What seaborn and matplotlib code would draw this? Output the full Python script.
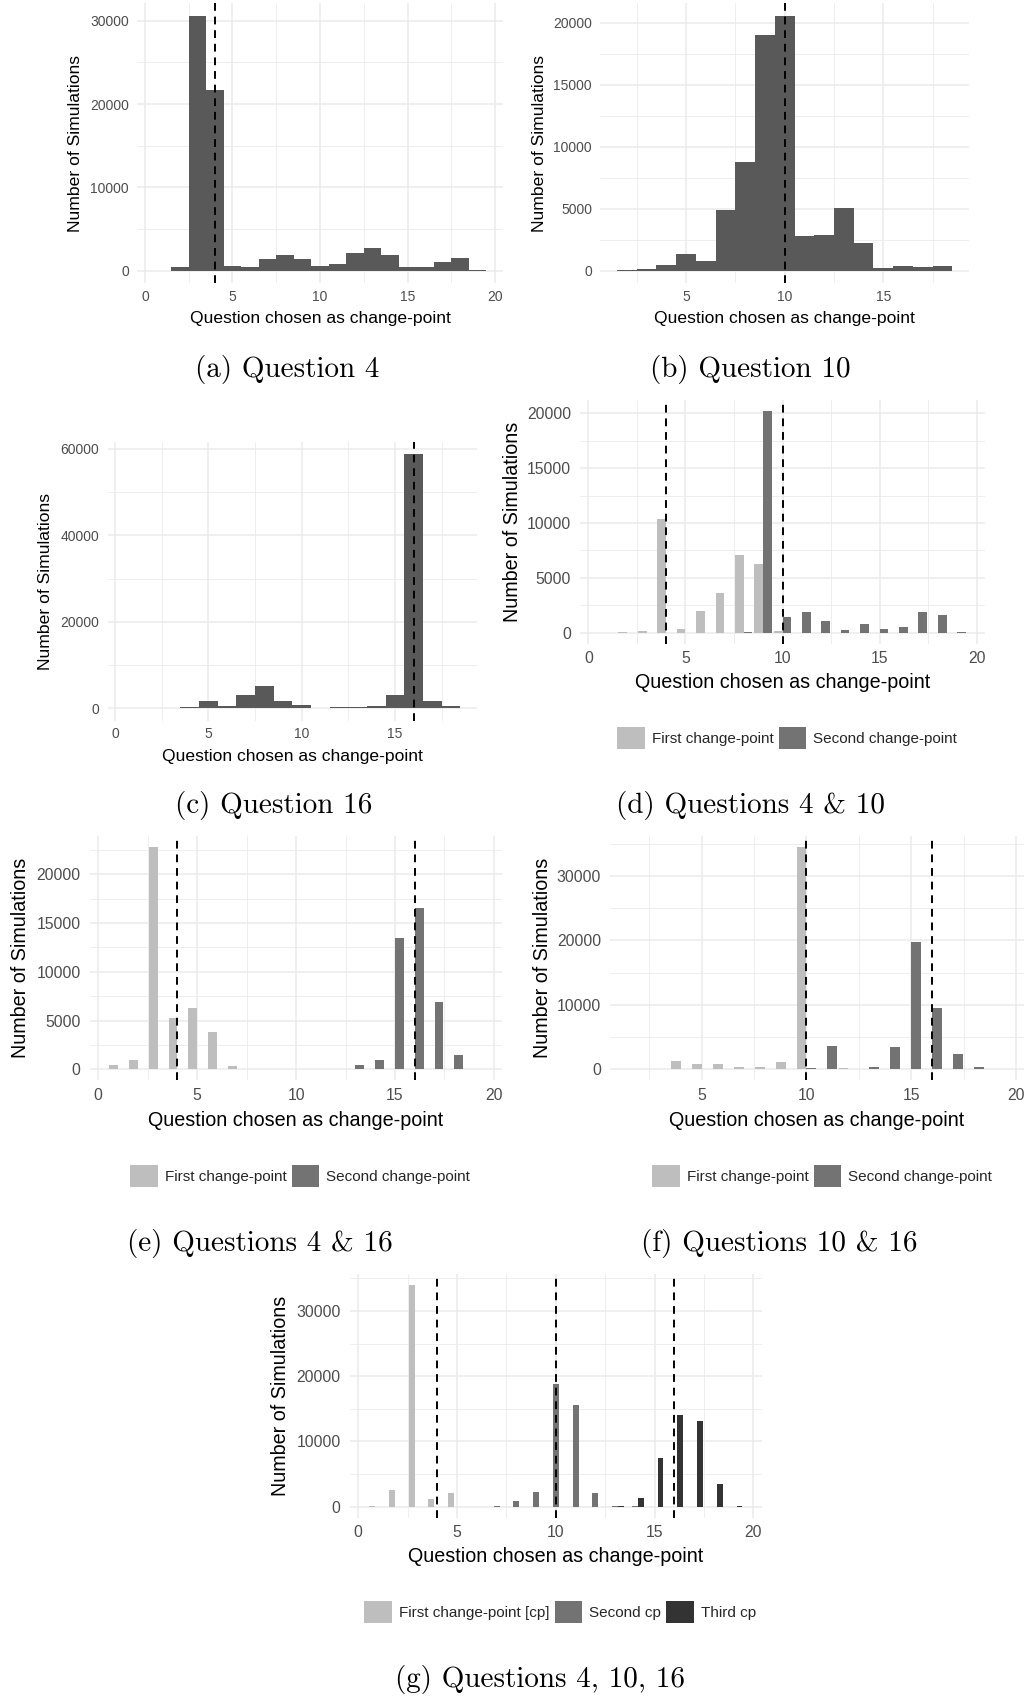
import matplotlib
matplotlib.use("Agg")
import matplotlib.pyplot as plt
import seaborn as sns
import pandas as pd
from matplotlib.patches import Patch

# ---------------- data ----------------
questions_a = list(range(1, 20))
counts_a = [0, 480, 30560, 21680, 560, 400, 1360, 1840, 1440, 600, 760,
            2160, 2720, 1880, 480, 480, 1040, 1480, 80]

questions_b = list(range(2, 19))
counts_b = [50, 100, 450, 1340, 750, 4890, 8760, 18980, 20540, 2770, 2880,
            5030, 2200, 215, 400, 320, 350]

questions_c = list(range(1, 19))
counts_c = [0, 50, 50, 200, 1620, 540, 3160, 5090, 1700, 770, 150, 230, 230,
            540, 3000, 58750, 1700, 620]

questions_d = list(range(1, 20))
first_d = [0, 50, 130, 10330, 365, 2000, 3620, 7110, 6260, 190, 0, 0, 0, 0,
           0, 0, 0, 0, 0]
second_d = [0, 0, 0, 0, 0, 0, 0, 100, 20240, 1430, 1850, 1060, 270, 760, 300,
            490, 1900, 1640, 60]

questions_e = list(range(1, 20))
first_e = [440, 920, 22770, 5260, 6320, 3860, 340, 0, 0, 0, 0, 0, 0, 0, 0, 0,
           0, 0, 0]
second_e = [0, 0, 0, 0, 0, 0, 0, 0, 0, 0, 40, 40, 440, 960, 13470, 16510, 6900,
            1440, 70]

questions_f = list(range(2, 20))
first_f = [0, 0, 1345, 780, 830, 360, 410, 1190, 34450, 0, 150, 0, 0, 0, 0, 0,
           0, 0]
second_f = [0, 0, 0, 0, 0, 0, 0, 0, 200, 3620, 100, 310, 3470, 19710, 9470,
            2330, 410, 0]

questions_g = list(range(1, 20))
first_g = [60, 2610, 33980, 1120, 2150, 0, 0, 0, 0, 0, 0, 0, 0, 0, 0, 0, 0, 0, 0]
second_g = [0, 0, 0, 0, 0, 0, 80, 920, 2300, 18750, 15530, 2040, 100, 50, 0, 0,
            0, 0, 0]
third_g = [0, 0, 0, 0, 0, 0, 0, 0, 0, 0, 0, 0, 100, 1380, 7510, 14000, 13180,
           3470, 150]

labels2 = ["First change-point", "Second change-point"]
labels3 = ["First change-point [cp]", "Second cp", "Third cp"]

captions = ["(a) Question 4", "(b) Question 10", "(c) Question 16",
            "(d) Questions 4 & 10", "(e) Questions 4 & 16",
            "(f) Questions 10 & 16", "(g) Questions 4, 10, 16"]

XLAB = "Question chosen as change-point"
YLAB = "Number of Simulations"

# ---------------- style ----------------
sns.set_theme(style="white")
plt.rcParams["font.family"] = ["Liberation Sans", "DejaVu Sans"]

BAR = "#595959"
LIGHT = "#BEBEBE"
MID = "#737373"
DARK = "#333333"
GRID = "#EBEBEB"

W, H = 1028, 1696
fig = plt.figure(figsize=(W / 100, H / 100), dpi=100)
fig.patch.set_facecolor("white")


def make_ax(L, T, R, B):
    return fig.add_axes([L / W, 1 - B / H, (R - L) / W, (B - T) / H])


def style(ax, rect, xlim, xmaj, xmin, ymaj, ymin, ymax, tfs, lfs,
          xlab_y, ylab_x, vlines):
    L, T, R, B = rect
    ax.set_xlim(*xlim)
    ax.set_ylim(-0.05 * ymax, 1.05 * ymax)
    ax.set_xticks(xmaj)
    ax.set_xticklabels([str(v) for v in xmaj])
    ax.set_xticks(xmin, minor=True)
    ax.set_yticks(ymaj)
    ax.set_yticklabels([str(v) for v in ymaj])
    ax.set_yticks(ymin, minor=True)
    ax.grid(which="major", color=GRID, lw=1.1)
    ax.grid(which="minor", color=GRID, lw=0.6)
    ax.set_axisbelow(True)
    for s in ax.spines.values():
        s.set_visible(False)
    ax.tick_params(which="both", length=0, labelcolor="#4D4D4D",
                   labelsize=tfs)
    ax.tick_params(axis="y", pad=6.5 * tfs / 11)
    ax.tick_params(axis="x", pad=5.0 * tfs / 11)
    ax.set_facecolor("white")
    for v in vlines:
        ax.axvline(v, color="black", lw=1.4, ls=(0, (4, 3)), zorder=5)
    ax.set_xlabel(XLAB, fontsize=lfs, color="black")
    ax.set_ylabel(YLAB, fontsize=lfs, color="black")
    ax.xaxis.set_label_coords(0.5, (B - xlab_y) / (B - T))
    ax.yaxis.set_label_coords((ylab_x - L) / (R - L), 0.5)
    ax.xaxis.label.set_verticalalignment("center")
    ax.yaxis.label.set_verticalalignment("center")


def single(rect, q, c):
    ax = make_ax(*rect)
    df = pd.DataFrame({"question": q, "count": c})
    sns.histplot(data=df, x="question", weights="count", discrete=True,
                 color=BAR, alpha=1, linewidth=0, ax=ax)
    return ax


def dodged(rect, q, series, labels, colors):
    ax = make_ax(*rect)
    qs, cs, hs = [], [], []
    for s, lab in zip(series, labels):
        qs += list(q)
        cs += list(s)
        hs += [lab] * len(q)
    df = pd.DataFrame({"question": qs, "count": cs, "cp": hs})
    sns.histplot(data=df, x="question", weights="count", hue="cp",
                 hue_order=labels, palette=colors, multiple="dodge",
                 discrete=True, shrink=0.9, alpha=1, linewidth=0,
                 common_norm=False, legend=False, ax=ax)
    return ax


def add_legend(ax, labels, colors, cx, cy, fs=11):
    handles = [Patch(facecolor=c, edgecolor="none", label=l)
               for l, c in zip(labels, colors)]
    ax.legend(handles=handles, loc="center", bbox_to_anchor=(cx / W, 1 - cy / H),
              bbox_transform=fig.transFigure, ncol=len(labels), frameon=False,
              fontsize=fs, handlelength=1.8, handleheight=1.8,
              handletextpad=0.45, columnspacing=0.35, borderpad=0,
              borderaxespad=0)


S_T, S_L = 10, 12.6   # small panels font sizes
B_T, B_L = 11.3, 14.2  # bigger panels

# (a)
ra = (137.1, 3.3, 502.9, 283.4)
ax = single(ra, questions_a, counts_a)
style(ax, ra, (-0.45, 20.45), [0, 5, 10, 15, 20], [2.5, 7.5, 12.5, 17.5],
      [0, 10000, 20000, 30000], [5000, 15000, 25000], max(counts_a),
      S_T, S_L, 319, 75, [4])

# (b)
rb = (600.2, 3.3, 969.2, 283.4)
ax = single(rb, questions_b, counts_b)
style(ax, rb, (0.65, 19.35), [5, 10, 15], [2.5, 7.5, 12.5, 17.5],
      [0, 5000, 10000, 15000, 20000], [2500, 7500, 12500, 17500],
      max(counts_b), S_T, S_L, 319, 540, [10])

# (c)
rc = (107.5, 441.6, 477.0, 721.0)
ax = single(rc, questions_c, counts_c)
style(ax, rc, (-0.4, 19.4), [0, 5, 10, 15], [2.5, 7.5, 12.5, 17.5],
      [0, 20000, 40000, 60000], [10000, 30000, 50000], max(counts_c),
      S_T, S_L, 756, 46, [16])

# (d)
rd = (580.2, 399.6, 984.8, 643.8)
ax = dodged(rd, questions_d, [first_d, second_d], labels2, [LIGHT, MID])
style(ax, rd, (-0.42, 20.42), [0, 5, 10, 15, 20], [2.5, 7.5, 12.5, 17.5],
      [0, 5000, 10000, 15000, 20000], [2500, 7500, 12500, 17500],
      max(first_d + second_d), B_T, B_L, 683, 512, [4, 10])
add_legend(ax, labels2, [LIGHT, MID], 787, 738)

# (e)
re_ = (90.0, 836.2, 502.2, 1080.4)
ax = dodged(re_, questions_e, [first_e, second_e], labels2, [LIGHT, MID])
style(ax, re_, (-0.42, 20.42), [0, 5, 10, 15, 20], [2.5, 7.5, 12.5, 17.5],
      [0, 5000, 10000, 15000, 20000], [2500, 7500, 12500, 17500, 22500],
      max(first_e + second_e), B_T, B_L, 1120, 21, [4, 16])
add_legend(ax, labels2, [LIGHT, MID], 300, 1176)

# (f)
rf = (610.3, 836.2, 1023.8, 1080.4)
ax = dodged(rf, questions_f, [first_f, second_f], labels2, [LIGHT, MID])
style(ax, rf, (0.64, 20.37), [5, 10, 15, 20], [2.5, 7.5, 12.5, 17.5],
      [0, 10000, 20000, 30000], [5000, 15000, 25000, 35000],
      max(first_f + second_f), B_T, B_L, 1120, 542, [10, 16])
add_legend(ax, labels2, [LIGHT, MID], 822, 1176)

# (g)
rg = (350.0, 1274.0, 762.2, 1517.8)
ax = dodged(rg, questions_g, [first_g, second_g, third_g], labels3,
            [LIGHT, MID, DARK])
style(ax, rg, (-0.42, 20.45), [0, 5, 10, 15, 20], [2.5, 7.5, 12.5, 17.5],
      [0, 10000, 20000, 30000], [5000, 15000, 25000, 35000],
      max(first_g + second_g + third_g), B_T, B_L, 1557, 281, [4, 10, 16])
add_legend(ax, labels3, [LIGHT, MID, DARK], 560, 1612)

# captions
cap_pos = [(287, 369), (750, 369), (274, 806), (750, 806), (260, 1243),
           (779, 1243), (540, 1680)]
for txt, (cx, cy) in zip(captions, cap_pos):
    fig.text(cx / W, 1 - cy / H, txt, ha="center", va="center",
             fontsize=21, family="cmr10", color="black")

fig.savefig("out.png", dpi=100, facecolor="white")
